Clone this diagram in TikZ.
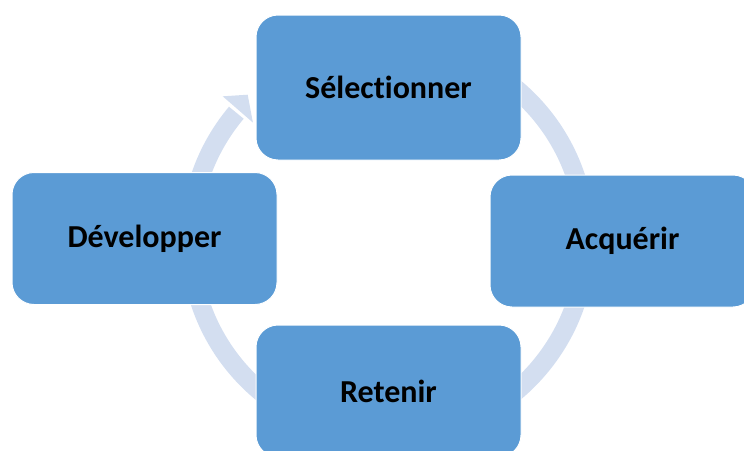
\documentclass[tikz,border=0pt]{standalone}
\usepackage{fontspec}
\setmainfont{Carlito}[Ligatures=NoCommon]
\definecolor{boxblue}{RGB}{91,155,213}
\definecolor{arcblue}{RGB}{211,222,240}
\begin{document}
\begin{tikzpicture}[x=1pt,y=-1pt,
  box/.style={draw=white, line width=1pt, fill=boxblue, rounded corners=22pt,
    minimum width=265pt, text=black, inner sep=0pt,
    font=\fontsize{32}{38}\selectfont\bfseries},
  cyclearc/.style={draw=arcblue, line width=19pt}]
\useasboundingbox (0,0) rectangle (744,450);
\clip (0,0) rectangle (744,450);
\coordinate (c) at (388,240);
% circular arrow behind the boxes
\draw[cyclearc] ([shift={(50:198pt)}]c) arc[start angle=50, end angle=-220, radius=198pt];
\fill[arcblue] ([shift={(139:179pt)}]c) -- ([shift={(134:202pt)}]c) -- ([shift={(139:219pt)}]c) -- cycle;
% boxes
\node[box, minimum height=145pt] (sel) at (388.5,87.5) {Sélectionner};
\node[box, minimum height=132pt] (acq) at (622.5,241) {Acquérir};
\node[box, minimum height=132pt] (ret) at (388.5,391) {Retenir};
\node[box, minimum height=132pt] (dev) at (144.5,238.5) {Développer};
\end{tikzpicture}
\end{document}
